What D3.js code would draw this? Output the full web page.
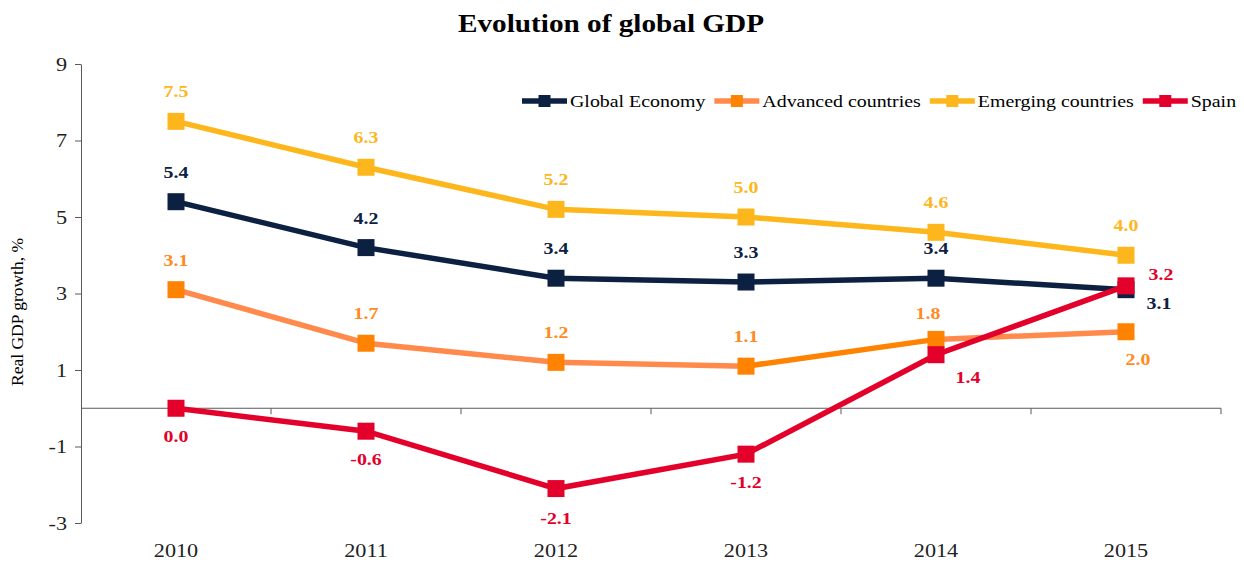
<!DOCTYPE html>
<html>
<head>
<meta charset="utf-8">
<script src="https://cdn.jsdelivr.net/npm/d3@7"></script>
<style>
  body { margin: 0; background: #fff; }
  text { font-family: "Liberation Serif", "Times New Roman", serif; }
</style>
</head>
<body>
<div id="chart-area"></div>
<script>
// data
const years = ["2010", "2011", "2012", "2013", "2014", "2015"];
const globalEconomy = [5.4, 4.2, 3.4, 3.3, 3.4, 3.1];
const advanced = [3.1, 1.7, 1.2, 1.1, 1.8, 2.0];
const emerging = [7.5, 6.3, 5.2, 5.0, 4.6, 4.0];
const spain = [0.0, -0.6, -2.1, -1.2, 1.4, 3.2];
const yTicks = [-3, -1, 1, 3, 5, 7, 9];

const series = [
  { name: "Global Economy", values: globalEconomy, line: "#0c2142", marker: "#0c2142", label: "#0c2142" },
  { name: "Advanced countries", values: advanced, line: "#ff8a4c", marker: "#ff8200", label: "#ff8a1e" },
  { name: "Emerging countries", values: emerging, line: "#fdb71c", marker: "#fdb71c", label: "#fdb71c" },
  { name: "Spain", values: spain, line: "#e3002b", marker: "#e3002b", label: "#e3002b" }
];

// label offsets (dx, dy) per series / point
const defaultOffset = [0, -30];
const labelOffsets = {
  "Spain": { 0: [0, 28], 1: [0, 28], 2: [0, 29], 3: [0, 28], 4: [32, 22], 5: [35, -12] },
  "Global Economy": { 5: [33, 13] },
  "Advanced countries": { 4: [-8, -26], 5: [12, 27] }
};

// the reference text is a bit wider than Liberation Serif
const k = 1.17;
function stretch(sel) {
  sel.each(function() {
    const t = d3.select(this);
    const x0 = +t.attr("x") || 0, y0 = +t.attr("y") || 0;
    t.attr("transform", "translate(" + x0 + "," + y0 + ") scale(" + k + ",1)")
      .attr("x", 0).attr("y", 0);
  });
}
const fmt = d => d3.format(".1f")(d).replace("\u2212", "-");

const w = 1244, h = 562;
const svg = d3.select("#chart-area").append("svg")
  .attr("width", w).attr("height", h);

const x = d3.scaleBand().domain(years).range([81, 1221]);
const y = d3.scaleLinear().domain([-3, 9]).range([523, 64]);
const cx = d => x(d) + x.bandwidth() / 2;

// title
svg.append("text")
  .attr("x", 611).attr("y", 32)
  .attr("text-anchor", "middle")
  .attr("font-size", "25px").attr("font-weight", "bold")
  .text("Evolution of global GDP")
  .call(stretch);

// y axis
const yAxis = svg.append("g")
  .attr("transform", "translate(81,0)")
  .call(d3.axisLeft(y).tickValues(yTicks).tickSize(6).tickSizeOuter(0)
    .tickFormat(d => String(d)));
yAxis.select(".domain").attr("stroke", "#595959");
yAxis.selectAll(".tick line").attr("stroke", "#595959");
yAxis.selectAll(".tick text")
  .attr("font-family", "Liberation Serif, serif")
  .attr("font-size", "19px").attr("fill", "#222")
  .attr("x", -14)
  .call(stretch);

svg.append("text")
  .attr("transform", "translate(23," + 312 + ") rotate(-90)")
  .attr("text-anchor", "middle")
  .attr("font-size", "17.5px")
  .text("Real GDP growth, %");

// x axis at zero, ticks between categories
const xAxis = svg.append("g");
xAxis.append("line")
  .attr("x1", 81).attr("x2", 1221)
  .attr("y1", y(0)).attr("y2", y(0))
  .attr("stroke", "#595959");
xAxis.selectAll(".xt")
  .data(years)
  .enter().append("line")
  .attr("x1", d => x(d) + x.step())
  .attr("x2", d => x(d) + x.step())
  .attr("y1", y(0)).attr("y2", y(0) + 6)
  .attr("stroke", "#595959");
xAxis.selectAll(".xl")
  .data(years)
  .enter().append("text")
  .attr("x", d => cx(d)).attr("y", 557)
  .attr("text-anchor", "middle")
  .attr("font-size", "19px").attr("fill", "#222")
  .text(d => d)
  .call(stretch);

// lines
const line = d3.line().x((d, i) => cx(years[i])).y(d => y(d));
series.forEach(s => {
  const g = svg.append("g");
  if (s.name === "Advanced countries") {
    // segment 2013-2014 drawn in darker orange
    s.values.slice(1).forEach((v, i) => {
      g.append("line")
        .attr("x1", cx(years[i])).attr("y1", y(s.values[i]))
        .attr("x2", cx(years[i + 1])).attr("y2", y(v))
        .attr("stroke", i === 3 ? s.marker : s.line)
        .attr("stroke-width", 5.5);
    });
  } else {
    g.append("path")
      .datum(s.values)
      .attr("d", line)
      .attr("fill", "none")
      .attr("stroke", s.line)
      .attr("stroke-width", 5.5);
  }
  g.selectAll("rect")
    .data(s.values)
    .enter().append("rect")
    .attr("x", (d, i) => cx(years[i]) - 8.5)
    .attr("y", d => y(d) - 8.5)
    .attr("width", 17).attr("height", 17)
    .attr("fill", s.marker);
});

// data labels
series.forEach(s => {
  const offs = labelOffsets[s.name] || {};
  svg.append("g").selectAll("text")
    .data(s.values)
    .enter().append("text")
    .attr("x", (d, i) => cx(years[i]) + (offs[i] || defaultOffset)[0])
    .attr("y", (d, i) => y(d) + (offs[i] || defaultOffset)[1])
    .attr("dy", "0.35em")
    .attr("text-anchor", "middle")
    .attr("font-size", "17px").attr("font-weight", "bold")
    .attr("fill", s.label)
    .text(fmt)
    .call(stretch);
});

// legend
const legend = svg.append("g").attr("transform", "translate(0,101)");
let lx = 522;
series.forEach(s => {
  const item = legend.append("g");
  item.append("line")
    .attr("x1", lx).attr("x2", lx + 45)
    .attr("stroke", s.line).attr("stroke-width", 5.5);
  item.append("rect")
    .attr("x", lx + 22.5 - 6).attr("y", -6)
    .attr("width", 12).attr("height", 12)
    .attr("fill", s.marker);
  const t = item.append("text")
    .attr("x", lx + 48).attr("dy", "0.35em")
    .attr("font-size", "17px")
    .text(s.name)
    .call(stretch);
  lx += 48 + t.node().getComputedTextLength() * k + 9;
});
</script>
</body>
</html>
